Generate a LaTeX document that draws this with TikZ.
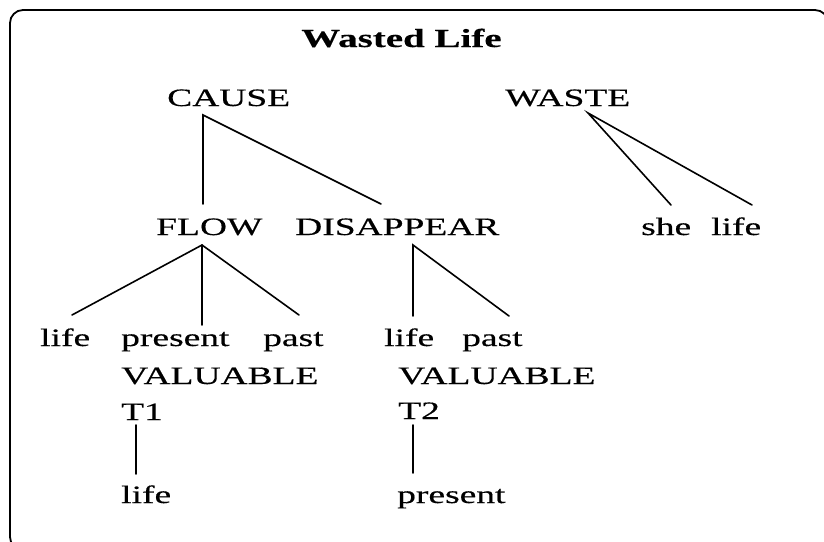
\documentclass[tikz,border=0pt]{standalone}
\usepackage{fontspec}
\setmainfont{Liberation Serif}[FakeStretch=1.5,FakeBold=0.4]
\begin{document}
\begin{tikzpicture}[x=1pt,y=-1pt,
  word/.style={inner sep=0pt,anchor=base west,font=\fontsize{25}{30}\selectfont},
  heading/.style={inner sep=0pt,anchor=base,font=\fontsize{26}{31}\selectfont\bfseries},
  branch/.style={line width=1.6pt,line cap=round},
  frame/.style={line width=1.8pt,rounded corners=13pt}]
\useasboundingbox (0,0) rectangle (824,541);
\begin{scope}
  \clip (0,0) rectangle (824,541);
  \draw[frame] (10,10) rectangle (828,550);
\end{scope}

\node[heading] (title) at (401.5,47) {Wasted Life};

% top predicates
\node[word] (cause) at (167,106) {CAUSE};
\node[word] (waste) at (505,106) {WASTE};

% second level
\node[word] (flow)  at (156,235) {FLOW};
\node[word] (dis)   at (295,235) {DISAPPEAR};
\node[word] (she)   at (641,235) {she};
\node[word] (lifeW) at (711,235) {life};

% arguments of FLOW and DISAPPEAR
\node[word] (lifeA)    at (40,346)  {life};
\node[word] (presentA) at (121,346) {present};
\node[word] (pastA)    at (263,346) {past};
\node[word] (lifeB)    at (384,346) {life};
\node[word] (pastB)    at (462,346) {past};

\node[word] (valA) at (121,384) {VALUABLE};
\node[word] (valB) at (398,384) {VALUABLE};
\node[word] (tA)   at (121,420) {T1};
\node[word] (tB)   at (398,419) {T2};
\node[word] (lifeC)    at (121,503) {life};
\node[word] (presentC) at (397,503) {present};

% branches
\coordinate (causefork) at ([xshift=36pt,yshift=-9pt]cause.base west);
\draw[branch] ([xshift=47pt,yshift=31pt]flow.base west) -- (causefork)
              -- ([xshift=86pt,yshift=31pt]dis.base west);

\coordinate (wastefork) at ([xshift=83pt,yshift=-7pt]waste.base west);
\draw[branch] ([xshift=30pt,yshift=30pt]she.base west) -- (wastefork)
              -- ([xshift=41pt,yshift=30pt]lifeW.base west);

\coordinate (flowfork) at ([xshift=46pt,yshift=-10pt]flow.base west);
\draw[branch] ([xshift=32pt,yshift=31pt]lifeA.base west) -- (flowfork)
              -- ([xshift=36pt,yshift=31pt]pastA.base west);
\draw[branch] (flowfork) -- ([xshift=81pt,yshift=21pt]presentA.base west);

\coordinate (disfork) at ([xshift=118pt,yshift=-10pt]dis.base west);
\draw[branch] ([xshift=29pt,yshift=30pt]lifeB.base west) -- (disfork)
              -- ([xshift=47pt,yshift=30pt]pastB.base west);

\draw[branch] ([xshift=15pt,yshift=-5pt]tA.base west) -- ([xshift=15pt,yshift=29pt]lifeC.base west);
\draw[branch] ([xshift=15pt,yshift=-6pt]tB.base west) -- ([xshift=16pt,yshift=30pt]presentC.base west);
\end{tikzpicture}
\end{document}
